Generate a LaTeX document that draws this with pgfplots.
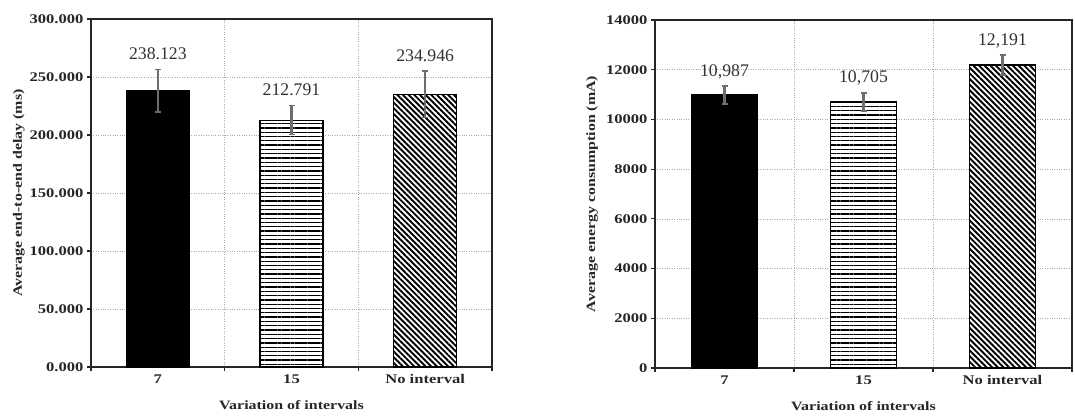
\documentclass[border=0pt]{standalone}
\usepackage{fontspec}
\setmainfont{Liberation Serif}
\usepackage{graphicx}
\usepackage{pgfplots}
\pgfplotsset{compat=1.18}
\usetikzlibrary{patterns.meta}
\newcommand\wb[1]{\scalebox{1.25}[1]{\bfseries #1}}
\definecolor{errgray}{RGB}{110,110,110}
\definecolor{gridgray}{RGB}{170,170,170}
\definecolor{labgray}{RGB}{50,50,50}

\pgfplotstableread{
x top lab
1 256.623 238.123
2 225.291 212.791
3 254.946 234.946
}\delaylab
\pgfplotstableread{
x top lab
1 11342 10,987
2 11065 10,705
3 12591 12,191
}\energylab

\pgfplotsset{
  panel/.style={
    scale only axis, height=348bp,
    xmin=0.5, xmax=3.5, xtick={0.5,1.5,2.5,3.5},
    x tick label as interval,
    xticklabels={\wb{7},\wb{15},\wb{No interval}},
    scaled y ticks=false,
    tick pos=left, tick align=outside, major tick length=4bp,
    grid=major, major grid style={dotted, gridgray, line width=0.7bp},
    axis line style={line width=1.1bp, black!85},
    every tick/.style={line width=1.1bp, black!85},
    tick label style={font=\fontsize{13.3}{15}\selectfont, text=black!85},
    every axis y label/.style={rotate=90, anchor=center, font=\fontsize{12.8}{15}\selectfont, text=black!85},
    every axis x label/.style={anchor=center, at={(axis description cs:0.5,-0.109)}, font=\fontsize{12.8}{15}\selectfont, text=black!85},
    xlabel={\wb{Variation of intervals}},
  },
  mybar/.style={ybar, bar width=0.47, bar shift=0pt, draw=black, line width=1.3bp,
    /pgfplots/error bars/y dir=both, /pgfplots/error bars/y explicit,
    /pgfplots/error bars/error bar style={color=errgray, line width=2.2bp},
    /pgfplots/error bars/error mark options={rotate=90, errgray, mark size=3bp, line width=1.6bp}},
  vlab/.style={only marks, mark=*, mark size=0pt, mark options={draw=none, fill=none},
    nodes near coords, point meta=explicit symbolic,
    every node near coord/.append style={font=\fontsize{17.8}{20}\selectfont, text=labgray, anchor=base, yshift=10bp, inner sep=0pt}},
  hpat/.style={fill=white, postaction={pattern={Lines[angle=0, distance=4.3bp, line width=1.3bp]}, pattern color=black}},
  dpat/.style={fill=white, postaction={pattern={Lines[angle=-45, distance=4bp, line width=1.9bp]}, pattern color=black}},
}

\begin{document}
\begin{tikzpicture}
\path[use as bounding box] (0,0) rectangle (1075bp,416bp);
\begin{axis}[panel, width=401bp, anchor=south west, at={(91bp,49bp)},
  ymin=0, ymax=300, ytick={0,50,100,150,200,250,300},
  yticklabels={\wb{0.000},\wb{50.000},\wb{100.000},\wb{150.000},\wb{200.000},\wb{250.000},\wb{300.000}},
  ylabel={\wb{Average end-to-end delay (ms)}},
  every axis y label/.append style={at={(axis description cs:-0.18,0.5)}},
]
\addplot[mybar, fill=black] coordinates {(1,238.123) +- (0,18.5)};
\addplot[mybar, hpat] coordinates {(2,212.791) +- (0,12.5)};
\addplot[mybar, dpat] coordinates {(3,234.946) +- (0,20.0)};
\addplot[vlab] table[x=x, y=top, meta=lab] {\delaylab};
\end{axis}
\begin{axis}[panel, width=417bp, anchor=south west, at={(655bp,48bp)},
  ymin=0, ymax=14000, ytick={0,2000,4000,6000,8000,10000,12000,14000},
  yticklabels={\wb{0},\wb{2000},\wb{4000},\wb{6000},\wb{8000},\wb{10000},\wb{12000},\wb{14000}},
  ylabel={\wb{Average energy consumption (mA)}},
  every axis y label/.append style={at={(axis description cs:-0.151,0.5)}},
]
\addplot[mybar, fill=black] coordinates {(1,10987) +- (0,355)};
\addplot[mybar, hpat] coordinates {(2,10705) +- (0,360)};
\addplot[mybar, dpat] coordinates {(3,12191) +- (0,400)};
\addplot[vlab] table[x=x, y=top, meta=lab] {\energylab};
\end{axis}
\end{tikzpicture}
\end{document}
